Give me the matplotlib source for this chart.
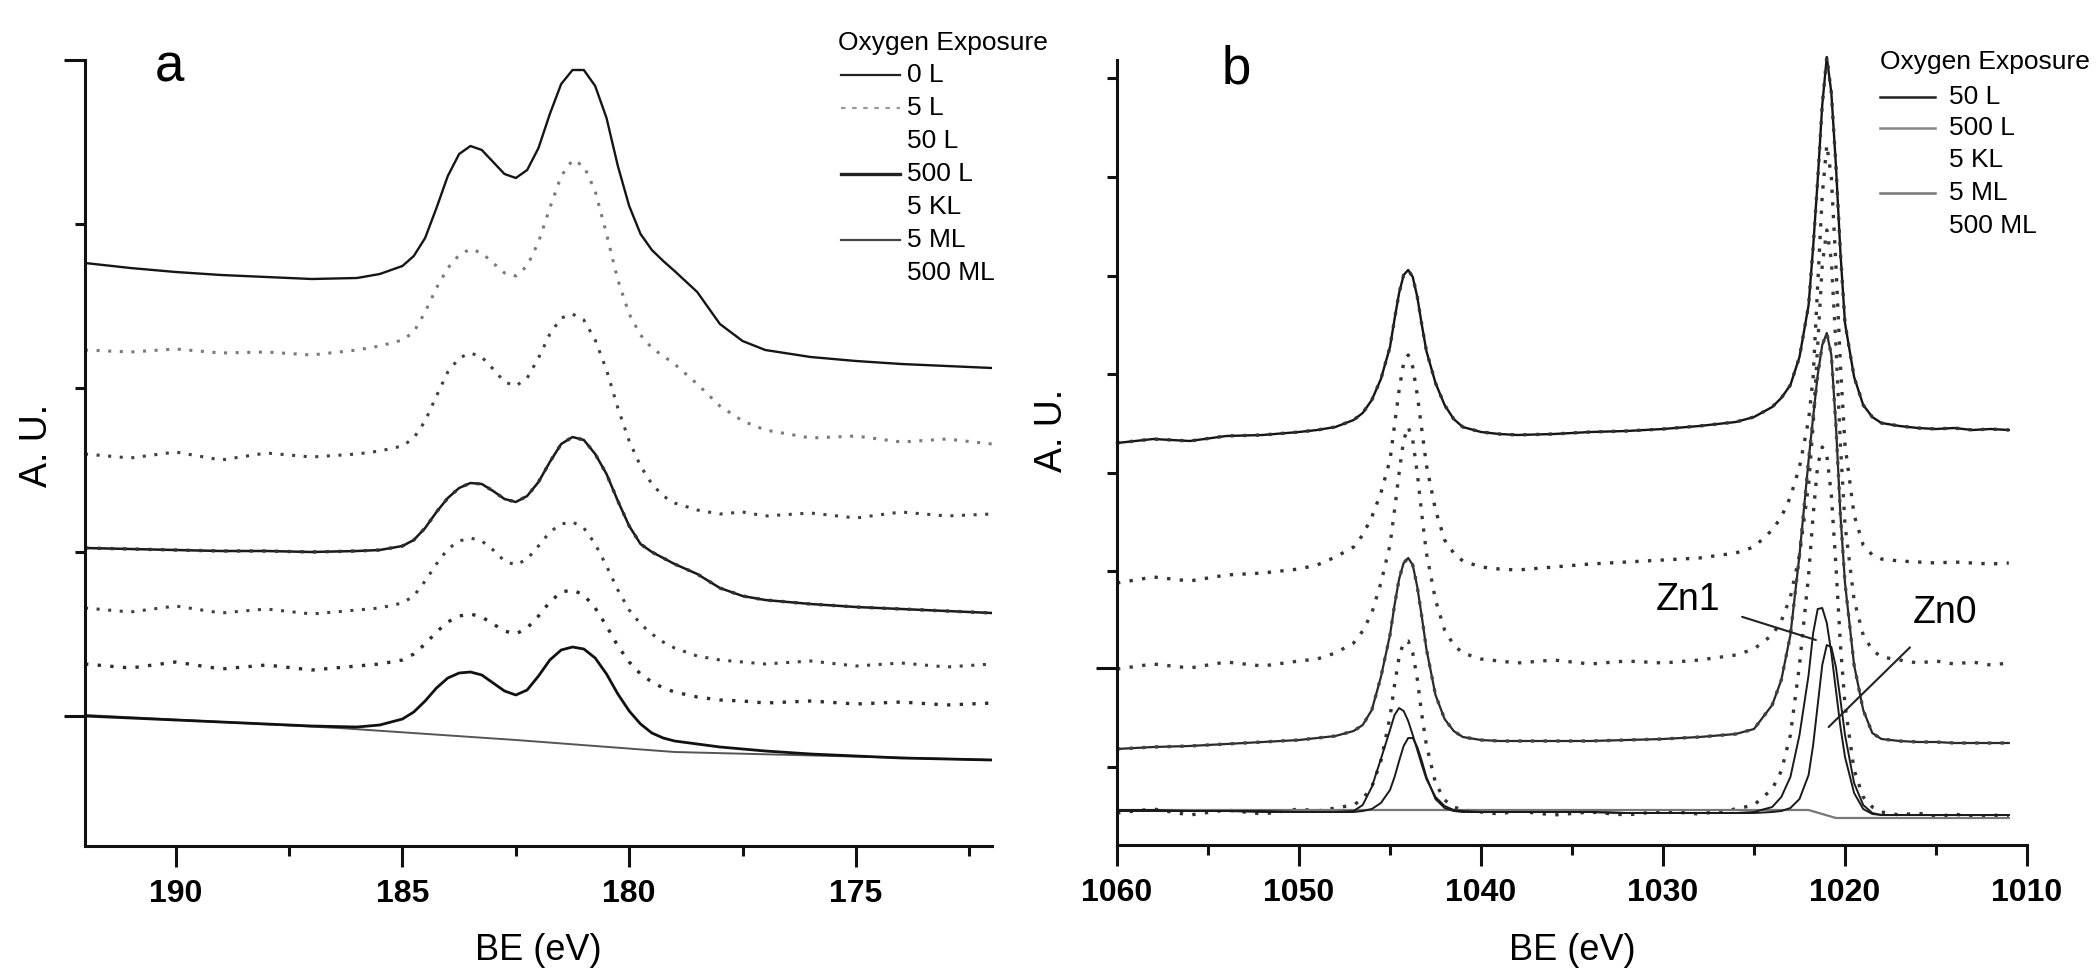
import matplotlib
matplotlib.use("Agg")
import matplotlib.pyplot as plt
from matplotlib.lines import Line2D

plt.rcParams["font.family"] = ["Liberation Sans", "DejaVu Sans"]

# ---------------- panel a : BE grid and traces (height in A.U.) ----------------
BE_A = [192.0, 191.0, 190.0, 189.0, 188.0, 187.0, 186.0, 185.5, 185.0,
        184.75, 184.5, 184.25, 184.0, 183.75, 183.5, 183.25, 183.0, 182.75,
        182.5, 182.25, 182.0, 181.75, 181.5, 181.25, 181.0, 180.75, 180.5,
        180.25, 180.0, 179.75, 179.5, 179.25, 179.0, 178.5, 178.0, 177.5,
        177.0, 176.0, 175.0, 174.0, 173.0, 172.0]

A_0L = [583, 578, 574, 571, 569, 567, 568, 572, 580, 590, 608, 638, 670, 692,
        700, 696, 684, 672, 668, 676, 698, 732, 762, 776, 776, 760, 728, 680,
        640, 612, 596, 585, 575, 554, 522, 505, 496, 489, 485, 482, 480, 478]
A_5L = [496, 494, 497, 493, 494, 491, 496, 500, 506, 514, 534, 558, 578, 591,
        597, 593, 583, 573, 570, 580, 604, 638, 670, 686, 680, 655, 612, 566,
        532, 511, 498, 490, 482, 462, 440, 425, 416, 408, 410, 404, 407, 402]
A_50L = [392, 388, 394, 386, 393, 389, 392, 395, 400, 408, 425, 450, 474, 488,
         493, 489, 477, 464, 460, 468, 488, 512, 528, 532, 526, 506, 476, 438,
         405, 380, 362, 350, 343, 336, 332, 334, 330, 333, 328, 334, 330, 332]
A_500L = [298, 297, 296, 295, 295, 294, 295, 296, 300, 306, 318, 334, 348, 358,
          363, 362, 355, 347, 344, 350, 364, 384, 402, 409, 406, 392, 372, 345,
          320, 302, 294, 288, 282, 272, 258, 250, 246, 242, 239, 237, 235, 233]
A_5KL = [238, 234, 240, 233, 237, 232, 236, 238, 243, 250, 265, 282, 297, 305,
         308, 305, 296, 285, 281, 287, 300, 314, 322, 324, 318, 302, 280, 256,
         236, 222, 212, 204, 198, 190, 186, 184, 182, 185, 180, 183, 179, 182]
A_5ML = [182, 178, 184, 177, 181, 176, 180, 182, 186, 192, 202, 214, 224, 230,
         232, 229, 222, 215, 212, 218, 230, 244, 254, 256, 251, 238, 220, 200,
         184, 172, 164, 158, 154, 149, 146, 145, 143, 145, 142, 144, 141, 143]
A_500ML = [130, 128, 126, 124, 122, 120, 119, 121, 127, 134, 145, 158, 168, 173,
           174, 171, 163, 155, 151, 156, 170, 186, 196, 199, 197, 188, 172, 152,
           135, 122, 113, 108, 105, 102, 99, 97, 95, 92, 90, 88, 87, 86]
BG_A_X = [192.0, 186.4, 182.5, 179.0, 172.0]
BG_A_Y = [131, 118, 106, 94, 86]

LEGEND_A = ["0 L", "5 L", "50 L", "500 L", "5 KL", "5 ML", "500 ML"]

# ---------------- panel b ----------------
BE_B = [1060, 1058, 1056, 1054, 1052, 1050, 1049, 1048, 1047, 1046.5, 1046,
        1045.5, 1045, 1044.75, 1044.5, 1044.25, 1044, 1043.75, 1043.5, 1043.25,
        1043, 1042.5, 1042, 1041.5, 1041, 1040, 1039, 1038, 1036, 1034, 1032,
        1030, 1028, 1026, 1025, 1024, 1023.5, 1023, 1022.5, 1022, 1021.75,
        1021.5, 1021.25, 1021, 1020.75, 1020.5, 1020.25, 1020, 1019.5, 1019,
        1018.5, 1018, 1017, 1016, 1015, 1014, 1013, 1012, 1011]

B_50L = [402, 406, 404, 409, 410, 413, 415, 418, 425, 432, 445, 466, 498, 526,
         552, 570, 575, 568, 548, 520, 494, 462, 440, 426, 418, 413, 411, 410,
         411, 413, 414, 416, 419, 423, 428, 438, 447, 460, 488, 540, 598, 665,
         740, 788, 752, 680, 592, 522, 468, 440, 428, 422, 419, 417, 416, 417,
         415, 416, 415]
B_500L = [262, 268, 264, 270, 272, 276, 280, 288, 298, 310, 328, 352, 385, 420,
          455, 482, 490, 478, 450, 415, 380, 335, 305, 292, 284, 278, 276, 275,
          278, 281, 283, 285, 287, 292, 298, 315, 328, 348, 378, 425, 468, 560,
          650, 700, 668, 580, 480, 400, 330, 300, 290, 286, 284, 283, 282, 283,
          282, 281, 282]
B_5KL = [176, 181, 177, 183, 179, 184, 186, 192, 202, 214, 232, 262, 300, 335,
         372, 405, 418, 405, 372, 330, 292, 245, 215, 200, 192, 186, 184, 182,
         185, 181, 184, 182, 185, 190, 196, 210, 224, 248, 290, 360, 420, 500,
         580, 615, 585, 500, 400, 320, 245, 210, 195, 188, 185, 182, 184, 181,
         183, 180, 182]
B_5ML = [96, 98, 99, 101, 103, 105, 107, 109, 114, 120, 135, 168, 210, 240,
         266, 282, 287, 280, 258, 228, 196, 150, 126, 114, 108, 105, 104, 104,
         104, 104, 105, 106, 108, 111, 116, 140, 165, 210, 290, 385, 428, 470,
         500, 512, 490, 420, 330, 262, 180, 135, 112, 106, 104, 103, 103, 102,
         102, 102, 102]
B_500ML = [32, 36, 30, 35, 31, 36, 34, 37, 40, 46, 58, 84, 128, 160, 188, 203,
           204, 192, 166, 130, 100, 62, 45, 38, 35, 33, 31, 34, 30, 33, 30, 34,
           31, 36, 40, 56, 74, 110, 180, 270, 330, 380, 398, 390, 350, 280, 200,
           140, 75, 48, 38, 33, 30, 32, 28, 31, 28, 30, 29]
B_ZN1 = [35, 35, 34, 34, 34, 33, 33, 33, 34, 40, 58, 86, 115, 130, 137, 134,
         124, 110, 95, 80, 66, 48, 39, 35, 34, 33, 33, 33, 33, 33, 32, 32, 32,
         32, 33, 38, 48, 68, 110, 170, 212, 236, 237, 222, 192, 155, 118, 88,
         52, 36, 31, 30, 30, 30, 30, 30, 30, 30, 30]
B_ZN0 = [34, 34, 34, 34, 33, 33, 33, 33, 33, 34, 36, 42, 55, 68, 84, 99, 107,
         107, 98, 84, 68, 46, 37, 34, 33, 33, 33, 33, 33, 33, 32, 32, 32, 32,
         32, 33, 34, 37, 46, 70, 100, 140, 180, 200, 198, 178, 145, 110, 62, 40,
         32, 30, 30, 30, 30, 30, 30, 30, 30]
BG_B_X = [1060, 1022, 1020.5, 1011]
BG_B_Y = [35, 35, 27, 27]

LEGEND_B = ["50 L", "500 L", "5 KL", "5 ML", "500 ML"]

W, H = 2099, 971
DOTS = (0, (1, 2.8))

fig = plt.figure(figsize=(W / 100, H / 100), dpi=100)
axA = fig.add_axes([85 / W, (H - 846) / H, (992 - 85) / W, (846 - 60) / H])
axB = fig.add_axes([1117 / W, (H - 845) / H, (2027 - 1117) / W, (845 - 60) / H])

# panel a traces
axA.plot(BE_A, A_0L, color="#151515", lw=1.7)
axA.plot(BE_A, A_5L, color="#7a7a7a", lw=2.2, ls=DOTS)
axA.plot(BE_A, A_50L, color="#404040", lw=2.2, ls=DOTS)
axA.plot(BE_A, A_500L, color="#1a1a1a", lw=1.8)
axA.plot(BE_A, A_500L, color="#333333", lw=2.4, ls=DOTS)
axA.plot(BE_A, A_5KL, color="#404040", lw=2.2, ls=DOTS)
axA.plot(BE_A, A_5ML, color="#2e2e2e", lw=2.4, ls=DOTS)
axA.plot(BG_A_X, BG_A_Y, color="#555555", lw=1.4)
axA.plot(BE_A, A_500ML, color="#111111", lw=2.0)

# panel b traces
axB.plot(BE_B, B_50L, color="#151515", lw=1.7, clip_on=False)
axB.plot(BE_B, B_50L, color="#333333", lw=2.4, ls=DOTS, clip_on=False)
axB.plot(BE_B, B_500L, color="#333333", lw=2.4, ls=DOTS)
axB.plot(BE_B, B_5KL, color="#3a3a3a", lw=2.4, ls=DOTS)
axB.plot(BE_B, B_5ML, color="#2a2a2a", lw=1.6)
axB.plot(BE_B, B_5ML, color="#444444", lw=2.4, ls=DOTS)
axB.plot(BE_B, B_500ML, color="#333333", lw=2.4, ls=DOTS)
axB.plot(BG_B_X, BG_B_Y, color="#777777", lw=1.6)
axB.plot(BE_B, B_ZN1, color="#1a1a1a", lw=1.4)
axB.plot(BE_B, B_ZN0, color="#1a1a1a", lw=1.4)

axB.annotate("Zn1", xy=(1021.6, 205), xytext=(1028.6, 245), fontsize=27,
             ha="center", va="center",
             arrowprops=dict(arrowstyle="-", color="#222222", lw=1.5,
                             shrinkA=14, shrinkB=0))
axB.annotate("Zn0", xy=(1020.9, 118), xytext=(1014.5, 232), fontsize=27,
             ha="center", va="center",
             arrowprops=dict(arrowstyle="-", color="#222222", lw=1.5,
                             shrinkA=14, shrinkB=0))

# axes styling
for ax in (axA, axB):
    for side in ("top", "right"):
        ax.spines[side].set_visible(False)
    for side in ("left", "bottom"):
        ax.spines[side].set_linewidth(2.2)
        ax.spines[side].set_color("#111111")
    ax.tick_params(which="major", direction="out", length=15, width=2.2,
                   labelsize=23, pad=9, color="#111111")
    ax.tick_params(which="minor", direction="out", length=7, width=2.2,
                   color="#111111")

axA.set_xlim(192, 172)
axA.set_ylim(0, 786)
axA.set_xticks([190, 185, 180, 175])
axA.set_xticks([187.5, 182.5, 177.5, 172.5], minor=True)
axA.set_yticks([130, 786])
axA.set_yticks([294, 458, 622], minor=True)
axA.set_yticklabels([])

axB.set_xlim(1060, 1010)
axB.set_ylim(0, 785)
axB.set_xticks([1060, 1050, 1040, 1030, 1020, 1010])
axB.set_xticks([1055, 1045, 1035, 1025, 1015], minor=True)
axB.set_yticks([177])
axB.set_yticks([78, 274, 372, 471, 569, 668, 767], minor=True)
axB.set_yticklabels([])

for ax in (axA, axB):
    for lab in ax.get_xticklabels():
        lab.set_fontweight("bold")

# overlay for free text in pixel coordinates
ov = fig.add_axes([0, 0, 1, 1], facecolor="none")
ov.set_xlim(0, W)
ov.set_ylim(H, 0)
ov.axis("off")

ov.text(169, 82, "a", fontsize=38, ha="center", va="baseline")
ov.text(1236, 83, "b", fontsize=38, ha="center", va="baseline")
ov.text(37, 445, "A. U.", fontsize=27, rotation=90, ha="center", va="center")
ov.text(1052, 430, "A. U.", fontsize=27, rotation=90, ha="center", va="center")
ov.text(538, 950, "BE (eV)", fontsize=26, ha="center", va="center")
ov.text(1572, 950, "BE (eV)", fontsize=26, ha="center", va="center")

# legend a
LEG_FS = 19
ov.text(838, 43, "Oxygen Exposure", fontsize=LEG_FS, ha="left", va="center")
rows_a = [75, 108, 141, 174, 207, 240, 273]
handles_a = {"0 L": ("#222222", 1.6, "-"), "5 L": ("#999999", 1.6, (0, (2, 3))),
             "500 L": ("#222222", 2.4, "-"), "5 ML": ("#444444", 1.6, "-")}
for lab, yy in zip(LEGEND_A, rows_a):
    ov.text(907, yy, lab, fontsize=LEG_FS, ha="left", va="center")
    if lab in handles_a:
        c, lw, ls = handles_a[lab]
        ov.add_line(Line2D([841, 900], [yy, yy], color=c, lw=lw, ls=ls))

# legend b
ov.text(1880, 62, "Oxygen Exposure", fontsize=LEG_FS, ha="left", va="center")
rows_b = [97, 128, 160, 193, 226]
handles_b = {"50 L": ("#222222", 1.8), "500 L": ("#888888", 1.8),
             "5 ML": ("#777777", 1.8)}
for lab, yy in zip(LEGEND_B, rows_b):
    ov.text(1949, yy, lab, fontsize=LEG_FS, ha="left", va="center")
    if lab in handles_b:
        c, lw = handles_b[lab]
        ov.add_line(Line2D([1880, 1935], [yy, yy], color=c, lw=lw))

fig.savefig("out.png", dpi=100)
